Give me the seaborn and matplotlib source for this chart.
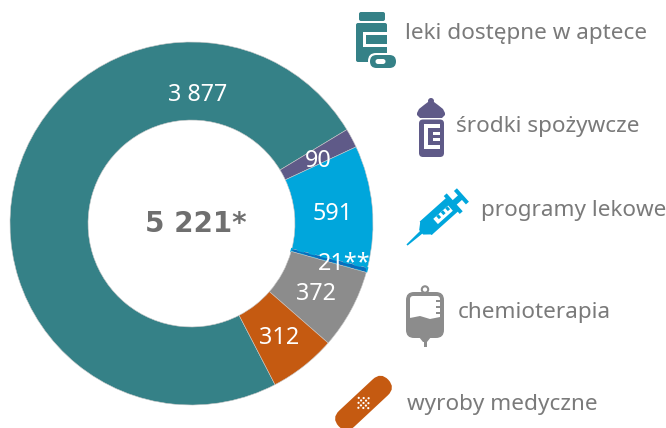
#!/usr/bin/env python3
"""Donut chart with icon legend, about 666x428 px"""

import matplotlib
matplotlib.use('Agg')
import matplotlib.pyplot as plt
import seaborn as sns
from matplotlib.patches import Circle, FancyBboxPatch, Polygon, Rectangle
from matplotlib.transforms import Affine2D

# Data (the 21 is drawn as its own thin slice inside the 591)
categories = ['leki dostępne w aptece', 'środki spożywcze', 'programy lekowe',
              'chemioterapia', 'wyroby medyczne']
values = [3877, 90, 570, 21, 372, 312]
value_labels = ['3 877', '90', '591', '21**', '372', '312']
total_label = '5 221*'
colors = ['#358187', '#5f5a88', '#00a6dc', '#0a6dbb', '#8c8c8c', '#c55a11']

W, H = 666, 428
TEXT = '#7a7a7a'

sns.set_theme(style='white')
plt.rcParams['font.family'] = ['Noto Sans', 'DejaVu Sans']

fig = plt.figure(figsize=(W / 100, H / 100), dpi=100)
fig.patch.set_facecolor('white')

# Donut, placed in pixels: x 10-373, y 42-405
ax = fig.add_axes([10 / W, 1 - 405 / H, 363 / W, 363 / H])
wedges, _ = ax.pie(values, colors=colors, startangle=90 - 152.6, counterclock=False, radius=1,
                   wedgeprops=dict(width=0.43, edgecolor='#c8c8c8', linewidth=0.4))
ax.set_xlim(-1, 1)
ax.set_ylim(-1, 1)
# the thin slice is broken up in the original
wedges[3].set_edgecolor(colors[2])
wedges[3].set_linewidth(1.2)
wedges[3].set_linestyle((0, (4, 3)))

# Overlay in pixel coordinates for the labels and icons
ov = fig.add_axes([0, 0, 1, 1])
ov.set_xlim(0, W)
ov.set_ylim(H, 0)
ov.axis('off')
ov.patch.set_alpha(0)

# Value labels
label_pos = [(198, 95), (318, 161), (333, 214), (344, 264), (316, 294), (279, 338)]
for (x, y), txt in zip(label_pos, value_labels):
    ov.text(x, y, txt, color='white', fontsize=16.8, ha='center', va='center')
ov.text(196, 224, total_label, color='#6f6f6f', fontsize=20, fontweight='bold',
        family='DejaVu Sans', ha='center', va='center')

# Legend labels
legend_pos = [(405, 33.5), (456, 126.5), (481, 210.5), (458, 312.5), (407, 404.5)]
for (x, y), txt in zip(legend_pos, categories):
    ov.text(x, y, txt, color=TEXT, fontsize=16.2, ha='left', va='center')


def rrect(x, y, w, h, r, color, **kw):
    p = FancyBboxPatch((x + r, y + r), w - 2 * r, h - 2 * r,
                       boxstyle=f'round,pad={r},rounding_size={r}', fc=color, ec='none', **kw)
    ov.add_patch(p)
    return p


def rect(x, y, w, h, color, **kw):
    ov.add_patch(Rectangle((x, y), w, h, fc=color, ec='none', **kw))


# Pill bottle icon
c = colors[0]
rrect(359, 12, 26, 9, 2, c)
rrect(356, 23, 31, 39, 2, c)
rect(362.5, 31.5, 24.5, 3, 'white')
rect(362.5, 44, 24.5, 3, 'white')
rect(362.5, 31.5, 3, 15.5, 'white')
rrect(368, 53, 29, 16, 8, 'white')
rrect(370, 55, 26, 13, 6.5, c)
rrect(375.5, 59, 10, 5, 2.5, 'white')

# Baby bottle icon
c = colors[1]
ov.add_patch(Circle((431, 101), 3, fc=c, ec='none'))
ov.add_patch(Polygon([(428, 102), (434, 102), (438, 105), (443, 109), (445, 113), (445, 115), (442, 118),
                      (420, 118), (417, 115), (417, 113), (419, 109), (424, 105)], fc=c, ec='none'))
rrect(419, 119.5, 25, 37.5, 4, c)
rect(423.5, 124, 16.5, 25, 'white')
rect(428, 128, 12, 17, c)
for y in [132, 138]:
    rect(433, y, 7, 2.5, 'white')

# Syringe icon, drawn along its axis then rotated
c = colors[2]
rot = Affine2D().rotate_deg(-41.8).translate(407, 245) + ov.transData
ov.add_patch(Polygon([(0, -0.8), (0, 0.8), (20, 1.8), (20, -1.8)], fc=c, ec='none', transform=rot))
ov.add_patch(Polygon([(19, -3), (26, -9), (26, 9), (19, 3)], fc=c, ec='none', transform=rot))
for xy, w, h, col in [((25, -9), 36, 18, c), ((60, -12), 4, 24, c), ((63, -3), 9, 6, c),
                      ((71, -9), 4, 18, c), ((37, -2), 20, 7, 'white'),
                      ((41, -2), 3, 4, c), ((47, -2), 3, 4, c), ((53, -2), 3, 4, c)]:
    ov.add_patch(Rectangle(xy, w, h, fc=col, ec='none', transform=rot))

# Infusion bag icon
c = colors[4]
ov.add_patch(Circle((425, 289.5), 3.2, fc='white', ec=c, lw=1.5))
rrect(406, 292, 38, 46, 8, c)
rrect(410, 296, 30, 24, 3, 'white')
ov.add_patch(Polygon([(410, 318), (420, 316), (430, 319), (440, 317), (440, 325), (410, 325)], fc=c, ec='none'))
for y in [300, 306, 312]:
    rect(436, y, 4, 2, c)
ov.add_patch(Polygon([(419, 337), (431, 337), (427, 342), (423, 342)], fc=c, ec='none'))
rect(423.5, 340, 3, 7, c)

# Plaster icon
c = colors[5]
rot = Affine2D().rotate_deg(-43).translate(363.5, 403) + ov.transData
ov.add_patch(FancyBboxPatch((-34, -11), 68, 22, boxstyle='round,pad=0,rounding_size=11', fc=c, ec='none',
                            transform=rot))
for dx in [-7, -3.5, 0, 3.5, 7]:
    for dy in [-7, -3.5, 0, 3.5, 7]:
        if abs(dx) + abs(dy) <= 7:
            ov.add_patch(Circle((dx, dy), 1.1, fc='white', ec='none', transform=rot))

plt.savefig('out.png', dpi=100)
plt.close()
